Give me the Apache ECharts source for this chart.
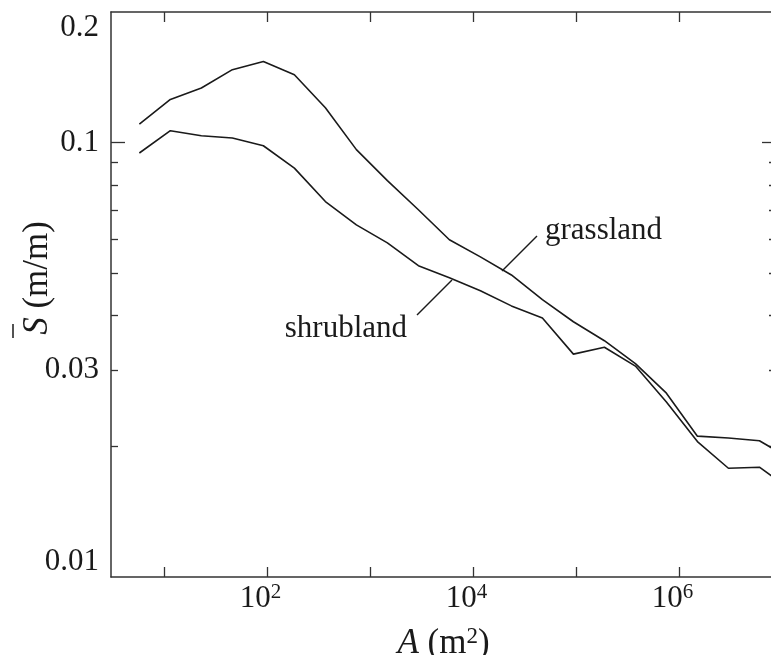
<!DOCTYPE html>
<html>
<head>
<meta charset="utf-8">
<title>Slope–area relation</title>
<script src="https://cdn.jsdelivr.net/npm/echarts@6/dist/echarts.min.js"></script>
<style>
  html, body { margin: 0; padding: 0; background: #fff; }
  #chart { width: 771px; height: 655px; }
</style>
</head>
<body>
<div id="chart"></div>
<script>
// Drainage area A (m^2): each step doubles the contributing area
const AREA = [5.76, 11.52, 23.04, 46.08, 92.16, 184.32, 368.64, 737.28, 1474.56,
  2949.12, 5898.24, 11796.48, 23592.96, 47185.92, 94371.84, 188743.68, 377487.36,
  754974.72, 1509949.44, 3019898.88, 6039797.76, 12079595.52];

// Mean slope S (m/m) for each area bin
const GRASSLAND = [0.1103, 0.1258, 0.1337, 0.1473, 0.1539, 0.1434, 0.1204, 0.0964,
  0.0818, 0.0701, 0.0598, 0.0546, 0.0496, 0.0435, 0.0387, 0.0350, 0.0310, 0.0265,
  0.0211, 0.0209, 0.0206, 0.0187];
const SHRUBLAND = [0.0947, 0.1066, 0.1038, 0.1025, 0.0984, 0.0874, 0.0732, 0.0647,
  0.0588, 0.0521, 0.0489, 0.0456, 0.0421, 0.0395, 0.0326, 0.0338, 0.0306, 0.0253,
  0.0205, 0.0178, 0.0179, 0.0159];

// Axis ticks and labels
const X_TICKS = [10, 100, 1000, 10000, 100000, 1000000];
const X_LABELS = [100, 10000, 1000000];
const Y_MAJOR_TICKS = [0.1];
const Y_MINOR_TICKS = [0.02, 0.03, 0.04, 0.05, 0.06, 0.07, 0.08, 0.09];
const Y_MID_LABELS = [0.1, 0.03];
const Y_TOP_LABELS = [0.2];
const Y_BOTTOM_LABELS = [0.01];
const Y_LABEL_TEXT = ['0.2', '0.1', '0.03', '0.01'];

const X_MIN = 3.055, X_MAX = 8.75e6;
const Y_MIN = 0.01, Y_MAX = 0.2;

const FONT = '"Liberation Serif", "Times New Roman", serif';
const INK = '#1a1a1a';
const AXIS_INK = '#333';

function yLabel(v) {
  let best = Y_LABEL_TEXT[0], err = Infinity;
  Y_LABEL_TEXT.forEach(t => {
    const e = Math.abs(Math.log10(+t) - Math.log10(v));
    if (e < err) { err = e; best = t; }
  });
  return best;
}

const yBase = {
  type: 'log', logBase: 10, min: Y_MIN, max: Y_MAX,
  splitLine: { show: false },
  axisLine: { show: false, onZero: false },
  axisTick: { show: false },
  axisLabel: { show: false },
  minorTick: { show: false }
};

function yAxisOf(extra) {
  return Object.assign({}, yBase, extra);
}

const yLabelStyle = { show: true, margin: 12, color: INK, fontFamily: FONT, fontSize: 31, formatter: yLabel };

const chart = echarts.init(document.getElementById('chart'), null, { renderer: 'canvas' });

chart.setOption({
  animation: false,
  backgroundColor: '#fff',
  grid: { left: 111, right: -5, top: 12, bottom: 78, containLabel: false, outerBoundsMode: 'none' },
  xAxis: [
    {
      type: 'log', logBase: 10, min: X_MIN, max: X_MAX, position: 'bottom',
      splitLine: { show: false },
      axisLine: { show: true, onZero: false, lineStyle: { color: AXIS_INK, width: 1.5 } },
      axisTick: { show: true, inside: true, length: 10, customValues: X_TICKS, lineStyle: { color: AXIS_INK, width: 1.3 } },
      axisLabel: {
        show: true, margin: 5, customValues: X_LABELS, padding: [0, 13, 0, 0],
        formatter: v => '{b|10}{s|' + Math.round(Math.log10(v)) + '}',
        rich: {
          b: { fontFamily: FONT, fontSize: 31, lineHeight: 34, color: INK },
          s: { fontFamily: FONT, fontSize: 21, lineHeight: 20, verticalAlign: 'top', color: INK }
        }
      },
      name: '{i|A} (m{s|2})',
      nameLocation: 'middle',
      nameGap: 48,
      nameTextStyle: {
        fontFamily: FONT, fontSize: 35, color: INK,
        rich: {
          i: { fontFamily: FONT, fontSize: 35, fontStyle: 'italic', lineHeight: 38, color: INK },
          s: { fontFamily: FONT, fontSize: 23, lineHeight: 22, verticalAlign: 'top', color: INK }
        }
      }
    },
    {
      type: 'log', logBase: 10, min: X_MIN, max: X_MAX, position: 'top',
      splitLine: { show: false },
      axisLine: { show: true, onZero: false, lineStyle: { color: AXIS_INK, width: 1.5 } },
      axisTick: { show: true, inside: true, length: 10, customValues: X_TICKS, lineStyle: { color: AXIS_INK, width: 1.3 } },
      axisLabel: { show: false }
    }
  ],
  yAxis: [
    yAxisOf({
      position: 'left',
      axisLine: { show: true, onZero: false, lineStyle: { color: AXIS_INK, width: 1.5 } },
      axisTick: { show: true, inside: true, length: 14, customValues: Y_MAJOR_TICKS, lineStyle: { color: AXIS_INK, width: 1.3 } },
      axisLabel: Object.assign({}, yLabelStyle, { customValues: Y_MID_LABELS, verticalAlign: 'middle' })
    }),
    yAxisOf({
      position: 'left',
      axisTick: { show: true, inside: true, length: 7, customValues: Y_MINOR_TICKS, lineStyle: { color: AXIS_INK, width: 1.3 } },
      axisLabel: Object.assign({}, yLabelStyle, { customValues: Y_TOP_LABELS, verticalAlign: 'top' })
    }),
    yAxisOf({
      position: 'left',
      axisLabel: Object.assign({}, yLabelStyle, { customValues: Y_BOTTOM_LABELS, verticalAlign: 'bottom' })
    }),
    yAxisOf({
      position: 'right',
      axisLine: { show: true, onZero: false, lineStyle: { color: AXIS_INK, width: 1.5 } },
      axisTick: { show: true, inside: true, length: 14, customValues: Y_MAJOR_TICKS, lineStyle: { color: AXIS_INK, width: 1.3 } }
    }),
    yAxisOf({
      position: 'right',
      axisTick: { show: true, inside: true, length: 7, customValues: Y_MINOR_TICKS, lineStyle: { color: AXIS_INK, width: 1.3 } }
    })
  ],
  series: [
    {
      name: 'grassland', type: 'line', xAxisIndex: 0, yAxisIndex: 0,
      data: AREA.map((a, i) => [a, GRASSLAND[i]]),
      showSymbol: false, symbol: 'none', clip: true,
      lineStyle: { color: INK, width: 1.6 }
    },
    {
      name: 'shrubland', type: 'line', xAxisIndex: 0, yAxisIndex: 0,
      data: AREA.map((a, i) => [a, SHRUBLAND[i]]),
      showSymbol: false, symbol: 'none', clip: true,
      lineStyle: { color: INK, width: 1.6 }
    }
  ],
  graphic: [
    // vertical axis title: S with an overbar, then the unit
    {
      type: 'group', x: 38, y: 278, rotation: Math.PI / 2,
      children: [
        {
          type: 'text',
          style: {
            text: '{i|S} (m/m)', align: 'center', verticalAlign: 'middle',
            fontFamily: FONT, fontSize: 35, fill: INK,
            rich: { i: { fontFamily: FONT, fontSize: 35, fontStyle: 'italic', fill: INK } }
          }
        },
        {
          type: 'line',
          shape: { x1: -60, y1: -25, x2: -46, y2: -25 },
          style: { stroke: INK, lineWidth: 1.5 }
        }
      ]
    },
    // curve annotations with leader lines
    {
      type: 'text', x: 545, y: 231,
      style: { text: 'grassland', align: 'left', verticalAlign: 'middle', fontFamily: FONT, fontSize: 31, fill: INK }
    },
    {
      type: 'line', shape: { x1: 537, y1: 236, x2: 502, y2: 271 },
      style: { stroke: INK, lineWidth: 1.4 }
    },
    {
      type: 'text', x: 407, y: 329,
      style: { text: 'shrubland', align: 'right', verticalAlign: 'middle', fontFamily: FONT, fontSize: 31, fill: INK }
    },
    {
      type: 'line', shape: { x1: 417, y1: 315, x2: 452, y2: 280 },
      style: { stroke: INK, lineWidth: 1.4 }
    }
  ]
});
</script>
</body>
</html>
